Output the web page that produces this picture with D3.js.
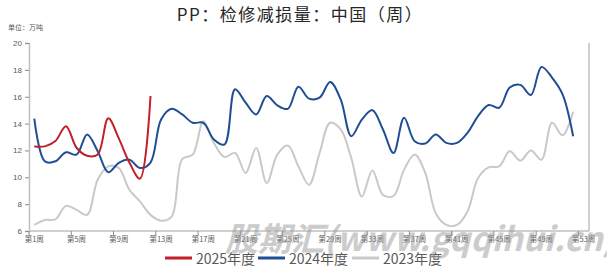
<!DOCTYPE html>
<html>
<head>
<meta charset="utf-8">
<script src="https://cdn.jsdelivr.net/npm/d3@7"></script>
<style>
  body { margin: 0; background: #fff; }
  svg { display: block; font-family: "Noto Sans CJK SC", "Noto Sans", sans-serif; }
</style>
</head>
<body>
<svg width="607" height="275"></svg>
<script>
// PP 检修减损量 weekly, 3 seasons
const weeks = d3.range(1, 54);
const tickWeeks = [1, 5, 9, 13, 17, 21, 25, 29, 33, 37, 41, 45, 49, 53];
const yTicks = [6, 8, 10, 12, 14, 16, 18, 20];

const s2025 = [12.3, 12.3, 12.7, 13.8, 12.2, 11.6, 11.7, 14.4, 12.9, 11.1, 9.9, 16.05];
const s2024 = [14.36, 11.19, 11.19, 11.86, 11.69, 13.19, 11.94, 10.37, 11.07, 11.31,
  10.69, 11.1, 14.3, 15.1, 14.68, 14.06, 14.06, 12.81, 12.44, 16.55,
  15.56, 14.68, 16.05, 15.36, 15.1, 16.75, 15.86, 15.93, 17.1, 15.8,
  13.06, 14.3, 15.0, 13.56, 11.81, 14.43, 12.69, 12.51, 13.19, 12.56,
  12.56, 13.31, 14.56, 15.38, 15.18, 16.68, 16.88, 16.13, 18.22, 17.43,
  16.18, 13.06];
const s2023 = [6.45, 6.82, 6.87, 7.87, 7.57, 7.2, 9.82, 10.81, 10.69, 9.07,
  8.2, 7.2, 6.77, 7.07, 11.36, 11.69, 14.18, 12.56, 11.51, 11.81,
  10.32, 12.19, 9.57, 11.69, 12.36, 10.81, 9.44, 11.81, 14.06, 13.56,
  11.44, 8.57, 10.51, 8.69, 8.62, 10.57, 11.69, 10.32, 7.32, 6.45,
  6.45, 7.45, 9.94, 10.74, 10.81, 11.94, 11.24, 11.99, 11.31, 14.06,
  13.13, 14.88];

const seriesNames = ['2025年度', '2024年度', '2023年度'];
const seriesColors = ['#c0202a', '#1f4e94', '#c9c9c9'];
const seriesData = [s2025, s2024, s2023];

const svg = d3.select('svg');

const x = d3.scaleBand().domain(weeks).range([29, 589]).padding(0);
const y = d3.scaleLinear().domain([6, 20]).range([231, 43]);
const bw = x.bandwidth();

// title + unit
svg.append('text')
  .attr('x', 300).attr('y', 21)
  .attr('text-anchor', 'middle')
  .attr('font-size', 17)
  .attr('letter-spacing', 1.5)
  .attr('fill', '#262626')
  .text('PP：检修减损量：中国（周）');

svg.append('text')
  .attr('x', 8).attr('y', 30)
  .attr('font-size', 7)
  .attr('fill', '#595959')
  .text('单位：万吨');

// y axis
const yAxis = svg.append('g')
  .attr('transform', 'translate(29,0)')
  .call(d3.axisLeft(y).tickValues(yTicks).tickSize(4).tickPadding(3));
yAxis.select('.domain').attr('stroke', '#bfbfbf').attr('stroke-width', 1.5);
yAxis.selectAll('.tick line').attr('stroke', '#8c8c8c');
yAxis.selectAll('.tick text').attr('fill', '#595959').attr('font-size', 8)
  .attr('font-family', 'Liberation Sans, Arial, sans-serif');

// right border
svg.append('line')
  .attr('x1', 589).attr('x2', 589).attr('y1', 43).attr('y2', 231)
  .attr('stroke', '#bfbfbf').attr('stroke-width', 1.5);

// x axis
const xg = svg.append('g');
xg.append('line')
  .attr('x1', 29).attr('x2', 589).attr('y1', 231).attr('y2', 231)
  .attr('stroke', '#bfbfbf').attr('stroke-width', 1.5);
xg.selectAll('line.tk').data(tickWeeks).enter().append('line')
  .attr('class', 'tk')
  .attr('x1', d => x(d)).attr('x2', d => x(d))
  .attr('y1', 231).attr('y2', 235)
  .attr('stroke', '#8c8c8c');
xg.selectAll('text').data(tickWeeks).enter().append('text')
  .attr('x', d => x(d) + bw / 2)
  .attr('y', 242)
  .attr('text-anchor', 'middle')
  .attr('font-size', 7.5)
  .attr('fill', '#595959')
  .text(d => '第' + d + '周');

// smoothed lines
const line = d3.line()
  .x((d, i) => x(weeks[i]) + bw / 2)
  .y(d => y(d))
  .curve(d3.curveCatmullRom.alpha(0.5));

// draw oldest first so 2025 sits on top
[2, 1, 0].forEach(k => {
  svg.append('path')
    .datum(seriesData[k])
    .attr('fill', 'none')
    .attr('stroke', seriesColors[k])
    .attr('stroke-width', 2)
    .attr('d', line);
});

// legend
const legendX = [165, 258, 352];
const lg = svg.append('g');
seriesNames.forEach((name, k) => {
  lg.append('line')
    .attr('x1', legendX[k]).attr('x2', legendX[k] + 27)
    .attr('y1', 258).attr('y2', 258)
    .attr('stroke', seriesColors[k]).attr('stroke-width', 3);
  lg.append('text')
    .attr('x', legendX[k] + 31).attr('y', 264)
    .attr('font-size', 14)
    .attr('fill', '#595959')
    .text(name);
});

// watermark
svg.append('text')
  .attr('x', 225).attr('y', 251)
  .attr('font-size', 33)
  .attr('font-weight', 'bold')
  .attr('font-style', 'italic')
  .attr('fill', '#9a9a9a')
  .attr('opacity', 0.5)
  .text('股期汇(www.gqqihui.cn)');
</script>
</body>
</html>
